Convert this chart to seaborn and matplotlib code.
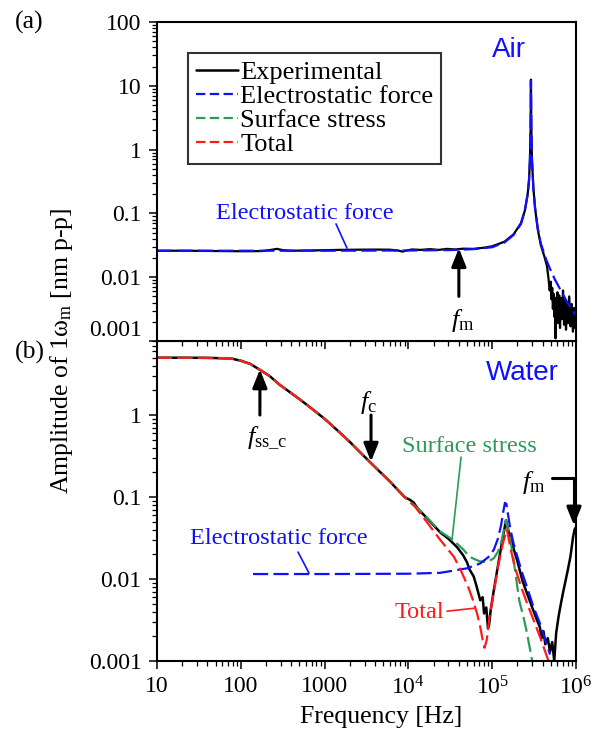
import numpy as np
import pandas as pd
import seaborn as sns
import matplotlib
matplotlib.use("Agg")
import matplotlib.pyplot as plt
from matplotlib.ticker import FixedLocator, FixedFormatter, NullFormatter, LogLocator

# ---------------- data ----------------
# (a) Air
air_model_f = [10, 100, 1e3, 1e4, 3e4, 6e4, 1e5, 1.4e5, 1.8e5, 2.2e5, 2.45e5, 2.65e5,
               2.75e5, 2.82e5, 2.87e5, 2.9e5, 2.93e5, 2.98e5, 3.1e5, 3.25e5, 3.5e5,
               3.8e5, 4.4e5, 4.9e5, 5.6e5, 6.5e5, 8e5, 1e6]
air_model_a = [0.026, 0.026, 0.026, 0.0262, 0.0266, 0.0275, 0.0295, 0.035, 0.046, 0.068,
               0.11, 0.2, 0.33, 0.7, 2.0, 12.0, 2.2, 0.7, 0.25, 0.12, 0.058,
               0.034, 0.019, 0.0135, 0.0092, 0.0064, 0.0039, 0.0025]

air_exp_f = [10, 20, 40, 70, 120, 180, 230, 270, 320, 400, 600, 1000, 1500, 2500, 4000,
             6000, 7500, 8500, 9500, 1.1e4, 1.4e4, 1.8e4, 2.3e4, 2.9e4, 3.6e4, 4.5e4,
             6e4, 8e4, 1e5, 1.4e5, 1.8e5, 2.2e5, 2.45e5, 2.65e5, 2.75e5, 2.82e5, 2.87e5,
             2.9e5, 2.93e5, 2.98e5, 3.1e5, 3.25e5, 3.5e5, 3.8e5, 4.2e5, 4.5e5,
             4.7e5, 4.85e5, 5.0e5, 5.1e5, 5.2e5, 5.3e5, 5.4e5, 5.5e5, 5.6e5, 5.7e5,
             5.8e5, 5.9e5, 6.0e5, 6.15e5, 6.3e5, 6.45e5, 6.6e5, 6.8e5, 7.0e5, 7.2e5,
             7.4e5, 7.6e5, 7.8e5, 8.0e5, 8.3e5, 8.6e5, 8.9e5, 9.2e5, 9.5e5, 9.8e5, 1e6]
air_exp_a = [0.026, 0.026, 0.0258, 0.0256, 0.0255, 0.0257, 0.0268, 0.0278, 0.0265, 0.026,
             0.0262, 0.0265, 0.0268, 0.027, 0.0271, 0.027, 0.0262, 0.0252, 0.0262, 0.0272,
             0.0268, 0.0275, 0.0268, 0.0278, 0.0272, 0.028, 0.0278, 0.029, 0.0305, 0.036,
             0.047, 0.07, 0.11, 0.2, 0.33, 0.7, 2.0, 12.5, 2.2, 0.7, 0.25, 0.12, 0.056,
             0.032, 0.021, 0.015,
             0.0095, 0.0062, 0.0085, 0.0045, 0.0068, 0.0032, 0.0055, 0.0024, 0.0048,
             0.0011, 0.0042, 0.0021, 0.0058, 0.0019, 0.0052, 0.0016, 0.0047, 0.0022,
             0.0062, 0.0018, 0.0045, 0.0015, 0.0040, 0.0019, 0.0050, 0.0017, 0.0038,
             0.0014, 0.0033, 0.0016, 0.0026]

# (b) Water
water_exp_f = [10, 20, 40, 60, 80, 100, 130, 170, 220, 294, 400, 520, 700, 1000, 1400,
               2000, 3500, 6000, 9000, 1.05e4, 1.15e4, 1.3e4, 1.7e4, 2.4e4, 3e4, 3.8e4,
               4.5e4, 5.0e4, 5.4e4, 6e4, 6.5e4, 7.2e4, 7.7e4, 8e4, 8.5e4, 8.9e4, 9.2e4,
               9.6e4, 1.05e5, 1.15e5, 1.3e5, 1.46e5, 1.6e5, 1.98e5, 2.3e5, 2.6e5, 3.0e5,
               3.4e5, 3.7e5, 3.9e5, 4.1e5, 4.3e5, 4.6e5, 4.9e5, 5.2e5, 5.5e5, 5.8e5,
               6.2e5, 6.5e5, 7e5, 7.5e5, 8e5, 8.6e5, 9.2e5, 9.6e5, 1e6]
water_exp_a = [5.0, 5.0, 4.98, 4.93, 4.85, 4.6, 4.2, 3.55, 3.0, 2.32, 1.85, 1.52, 1.2, 0.9,
               0.66, 0.47, 0.265, 0.155, 0.1, 0.092, 0.086, 0.072, 0.054, 0.037, 0.031,
               0.0245, 0.0195, 0.016, 0.0129, 0.0108, 0.0082, 0.0055, 0.0060, 0.0038,
               0.0045, 0.0025, 0.0028, 0.0042, 0.0075, 0.013, 0.027, 0.052, 0.035, 0.017,
               0.0095, 0.0067, 0.0045, 0.0032, 0.0026, 0.0019, 0.0023, 0.0016, 0.0019,
               0.0013, 0.0017, 0.001, 0.0022, 0.0035, 0.0046, 0.0068, 0.0095, 0.013,
               0.019, 0.032, 0.040, 0.043]

water_ss_f = [10, 20, 40, 60, 80, 100, 130, 170, 220, 294, 400, 520, 700, 1000, 1400,
              2000, 3500, 6000, 9000, 1.2e4, 1.7e4, 2.4e4, 3.4e4, 4.5e4, 5.4e4, 7e4,
              8.7e4, 1.05e5, 1.17e5, 1.3e5, 1.46e5, 1.6e5, 1.78e5, 1.95e5, 2.1e5, 2.4e5,
              2.6e5, 3.0e5]
water_ss_a = [5.0, 5.0, 4.98, 4.93, 4.85, 4.6, 4.2, 3.55, 3.0, 2.32, 1.85, 1.52, 1.2, 0.9,
              0.66, 0.47, 0.265, 0.155, 0.1, 0.078, 0.055, 0.038, 0.030, 0.023, 0.0186,
              0.0165, 0.016, 0.018, 0.0215, 0.03, 0.052, 0.035, 0.0186, 0.0095, 0.0055,
              0.0032, 0.0022, 0.001]

water_es_f = [140, 1e3, 1e4, 2.4e4, 5e4, 7.2e4, 9.3e4, 1.05e5, 1.17e5, 1.28e5, 1.35e5,
              1.42e5, 1.48e5, 1.55e5, 1.65e5, 1.8e5, 2e5, 2.3e5, 2.6e5, 3.1e5, 3.7e5,
              4.3e5, 4.9e5]
water_es_a = [0.0115, 0.0115, 0.0116, 0.0119, 0.0135, 0.0155, 0.019, 0.023, 0.031, 0.046,
              0.065, 0.085, 0.082, 0.06, 0.04, 0.027, 0.0186, 0.0115, 0.008, 0.0046,
              0.0029, 0.0018, 0.0012]

water_tot_f = [10, 20, 40, 60, 80, 100, 130, 170, 220, 294, 400, 520, 700, 1000, 1400,
               2000, 3500, 6000, 9000, 1.2e4, 1.7e4, 2.4e4, 3.5e4, 4.2e4, 5.2e4, 5.9e4,
               6.6e4, 7.2e4, 7.7e4, 8.1e4, 8.6e4, 9.3e4, 1.05e5, 1.17e5, 1.35e5, 1.5e5,
               1.65e5, 1.86e5, 2.2e5, 2.6e5, 3.1e5, 3.7e5, 4.7e5]
water_tot_a = [5.0, 5.0, 4.98, 4.93, 4.85, 4.6, 4.2, 3.55, 3.0, 2.32, 1.85, 1.52, 1.2, 0.9,
               0.66, 0.47, 0.265, 0.155, 0.1, 0.076, 0.048, 0.030, 0.0186, 0.0129, 0.0079,
               0.0055, 0.0038, 0.0026, 0.0018, 0.00145, 0.0018, 0.0035, 0.007, 0.014,
               0.028, 0.040, 0.024, 0.014, 0.0082, 0.0051, 0.0032, 0.002, 0.001]

series_labels = ["Experimental", "Electrostatic force", "Surface stress", "Total"]
x_ticks = [10, 100, 1000, 1e4, 1e5, 1e6]
x_ticklabels = ["10", "100", "1000", r"10$^{4}$", r"10$^{5}$", r"10$^{6}$"]
ya_ticks = [0.001, 0.01, 0.1, 1, 10, 100]
ya_ticklabels = ["0.001", "0.01", "0.1", "1", "10", "100"]
yb_ticks = [0.001, 0.01, 0.1, 1]
yb_ticklabels = ["0.001", "0.01", "0.1", "1"]

# ---------------- style ----------------
sns.set_theme(style="ticks")
plt.rcParams["font.family"] = ["Liberation Serif", "DejaVu Serif"]
plt.rcParams["mathtext.fontset"] = "custom"
plt.rcParams["mathtext.rm"] = "Liberation Serif"
plt.rcParams["mathtext.it"] = "Liberation Serif:italic"
plt.rcParams["mathtext.bf"] = "Liberation Serif:bold"
for k in ["text.color", "axes.edgecolor", "axes.labelcolor", "xtick.color", "ytick.color"]:
    plt.rcParams[k] = "black"

BLACK = "#000000"
BLUE = "#1010ff"
GREEN = "#2e9a5a"
RED = "#ff1a1a"
DASH = (0, (6.8, 2.4))
FS = 17
FS_LAB = 18.5

fig = plt.figure(figsize=(6.08, 7.35), dpi=100)
L, R = 157 / 608, 576 / 608
ax_a = fig.add_axes([L, 1 - 341 / 735, R - L, (341 - 22) / 735])
ax_b = fig.add_axes([L, 1 - 661 / 735, R - L, (661 - 341) / 735])
ax_b.patch.set_alpha(0)
ax_a.set_zorder(3)

# ---------------- panel (a) ----------------
sns.lineplot(x=air_exp_f, y=air_exp_a, ax=ax_a, color=BLACK, lw=1.6,
             estimator=None, sort=False)
sns.lineplot(x=air_model_f, y=air_model_a, ax=ax_a, color=BLUE, lw=1.6,
             linestyle=DASH, estimator=None, sort=False)

# ---------------- panel (b) ----------------
sns.lineplot(x=water_exp_f, y=water_exp_a, ax=ax_b, color=BLACK, lw=1.8,
             estimator=None, sort=False, label=series_labels[0])
sns.lineplot(x=water_ss_f, y=water_ss_a, ax=ax_b, color=GREEN, lw=1.6,
             linestyle=DASH, estimator=None, sort=False, label=series_labels[2])
sns.lineplot(x=water_es_f, y=water_es_a, ax=ax_b, color=BLUE, lw=1.6,
             linestyle=DASH, estimator=None, sort=False, label=series_labels[1])
sns.lineplot(x=water_tot_f, y=water_tot_a, ax=ax_b, color=RED, lw=1.6,
             linestyle=DASH, estimator=None, sort=False, label=series_labels[3])
if ax_b.get_legend() is not None:
    ax_b.get_legend().remove()

for ax in (ax_a, ax_b):
    ax.set_xscale("log")
    ax.set_yscale("log")
    ax.set_xlim(10, 1e6)
    ax.xaxis.set_major_locator(FixedLocator(x_ticks))
    ax.xaxis.set_minor_locator(LogLocator(base=10, subs=np.arange(2, 10)))
    ax.yaxis.set_minor_locator(LogLocator(base=10, subs=np.arange(2, 10), numticks=20))
    ax.xaxis.set_minor_formatter(NullFormatter())
    ax.yaxis.set_minor_formatter(NullFormatter())
    ax.tick_params(which="major", direction="out", length=6, width=1.1,
                   labelsize=FS, top=False, right=False, pad=5)
    ax.tick_params(which="minor", direction="out", length=3.5, width=0.9,
                   top=False, right=False)
    for s in ax.spines.values():
        s.set_linewidth(1.5)
        s.set_color("black")
    ax.set_xlabel("")
    ax.set_ylabel("")

ax_a.set_ylim(0.001, 100)
ax_a.yaxis.set_major_locator(FixedLocator(ya_ticks))
ax_a.yaxis.set_major_formatter(FixedFormatter(ya_ticklabels))
ax_a.xaxis.set_major_formatter(NullFormatter())
ax_a.yaxis.get_major_ticks()[0].label1.set_verticalalignment("bottom")

ax_b.set_ylim(0.001, 8)
ax_b.yaxis.set_major_locator(FixedLocator(yb_ticks))
ax_b.yaxis.set_major_formatter(FixedFormatter(yb_ticklabels))
ax_b.xaxis.set_major_formatter(FixedFormatter(x_ticklabels))

# legend (panel a) built from panel (b) lines
h, lab = ax_b.get_legend_handles_labels()
order = [lab.index(s) for s in series_labels]
leg = ax_a.legend([h[i] for i in order], [lab[i] for i in order],
                  loc="upper left", bbox_to_anchor=(0.074, 0.903), borderaxespad=0,
                  fontsize=19, frameon=True, fancybox=False, handlelength=1.6,
                  handletextpad=0.08, labelspacing=0.02, borderpad=0.3)
leg.get_frame().set_edgecolor("black")
leg.get_frame().set_linewidth(1.5)
for ln in leg.get_lines()[1:]:
    ln.set_linestyle((0, (4.2, 2.0)))

# ---------------- annotations ----------------
arrow_kw = dict(arrowstyle="-|>,head_length=0.55,head_width=0.22", color="black",
                lw=2.2, mutation_scale=20, shrinkA=0, shrinkB=0)

# panel (a)
ax_a.text(0.84, 0.912, "Air", transform=ax_a.transAxes, ha="center", va="center",
          color=BLUE, fontsize=20, family=["Liberation Sans", "DejaVu Sans"])
ax_a.text(584, 0.098, "Electrostatic force", color=BLUE, fontsize=17.5,
          ha="center", va="center")
ax_a.annotate("", xy=(1849, 0.0286), xytext=(1368, 0.0684),
              arrowprops=dict(arrowstyle="-", color=BLUE, lw=1.2, shrinkA=0, shrinkB=0))
ax_a.annotate("", xy=(4.0e4, 0.0285), xytext=(4.0e4, 0.005), arrowprops=arrow_kw)
ax_a.text(4.5e4, 0.0021, r"$f_{\mathrm{m}}$", fontsize=FS + 2, ha="center", va="center")

# panel (b)
ax_b.text(0.871, 0.90, "Water", transform=ax_b.transAxes, ha="center", va="center",
          color=BLUE, fontsize=20, family=["Liberation Sans", "DejaVu Sans"])
ax_b.annotate("", xy=(169, 3.6), xytext=(169, 1.0), arrowprops=arrow_kw)
ax_b.text(205, 0.52, r"$f_{\mathrm{ss\_c}}$", fontsize=FS + 2, ha="center", va="center")
ax_b.annotate("", xy=(3.58e3, 0.27), xytext=(3.58e3, 1.0), arrowprops=arrow_kw)
ax_b.text(3.38e3, 1.42, r"$f_{\mathrm{c}}$", fontsize=FS + 2, ha="center", va="center")
ax_b.annotate("", xy=(9.46e5, 0.045), xytext=(5.2e5, 0.17),
              arrowprops=dict(arrow_kw, connectionstyle="angle,angleA=0,angleB=90,rad=0"))
ax_b.text(3.16e5, 0.152, r"$f_{\mathrm{m}}$", fontsize=FS + 2, ha="center", va="center")

ax_b.text(286, 0.0316, "Electrostatic force", color=BLUE, fontsize=17.5,
          ha="center", va="center")
ax_b.annotate("", xy=(652, 0.0118), xytext=(482, 0.0213),
              arrowprops=dict(arrowstyle="-", color=BLUE, lw=1.2, shrinkA=0, shrinkB=0))
ax_b.text(5.4e4, 0.418, "Surface stress", color=GREEN, fontsize=17.5,
          ha="center", va="center")
ax_b.annotate("", xy=(3.31e4, 0.0297), xytext=(4.25e4, 0.307),
              arrowprops=dict(arrowstyle="-", color=GREEN, lw=1.2, shrinkA=0, shrinkB=0))
ax_b.text(1.34e4, 0.0039, "Total", color=RED, fontsize=17.5, ha="center", va="center")
ax_b.annotate("", xy=(6.07e4, 0.0044), xytext=(2.89e4, 0.00405),
              arrowprops=dict(arrowstyle="-", color=RED, lw=1.2, shrinkA=0, shrinkB=0))

# panel letters and axis titles
fig.text(15 / 608, 1 - 22 / 735, "(a)", fontsize=FS_LAB, ha="left", va="center")
fig.text(15 / 608, 1 - 352 / 735, "(b)", fontsize=FS_LAB, ha="left", va="center")
fig.text(62 / 608, 1 - 351 / 735, r"Amplitude of 1ω$_{\mathrm{m}}$ [nm p-p]",
         fontsize=FS_LAB, rotation=90, ha="center", va="center")
fig.text(381 / 608, 1 - 717 / 735, "Frequency [Hz]", fontsize=FS_LAB,
         ha="center", va="center")

fig.savefig("out.png", dpi=100)
